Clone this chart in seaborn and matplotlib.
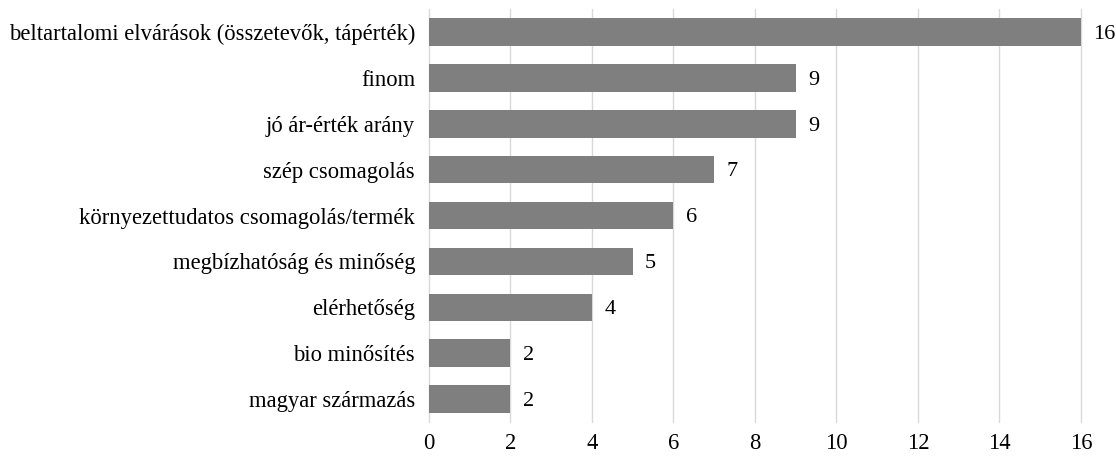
import matplotlib
matplotlib.use("Agg")
import matplotlib.pyplot as plt
import seaborn as sns
import pandas as pd

categories = [
    "beltartalomi elvárások (összetevők, tápérték)",
    "finom",
    "jó ár-érték arány",
    "szép csomagolás",
    "környezettudatos csomagolás/termék",
    "megbízhatóság és minőség",
    "elérhetőség",
    "bio minősítés",
    "magyar származás",
]
values = [16, 9, 9, 7, 6, 5, 4, 2, 2]
xticks = [0, 2, 4, 6, 8, 10, 12, 14, 16]

sns.set_theme(style="white")
plt.rcParams['font.family'] = ['Liberation Serif', 'DejaVu Serif']

df = pd.DataFrame({"cat": categories, "val": values})

fig = plt.figure(figsize=(11.16, 4.57), dpi=100)
ax = fig.add_axes([0.3844, 0.0766, 0.5842, 0.9034])

ax.grid(axis="x", color="#d9d9d9", linewidth=1)
ax.set_axisbelow(True)
sns.barplot(data=df, x="val", y="cat", color="#7f7f7f", width=0.6,
            saturation=1, linewidth=0, ax=ax)

for i, v in enumerate(values):
    ax.text(v + 0.3, i + 0.05, str(v), va="center", ha="left", fontsize=16, color="black")

ax.set_xlim(0, 16)
ax.set_xticks(xticks)
ax.set_xlabel("")
ax.set_ylabel("")
ax.tick_params(axis="both", length=0, labelsize=16.3, colors="black")
ax.tick_params(axis="x", pad=8)
ax.tick_params(axis="y", pad=10)
for gl in ax.get_xgridlines():
    gl.set_clip_on(False)
for s in ax.spines.values():
    s.set_visible(False)

fig.savefig("out.png", dpi=100)
